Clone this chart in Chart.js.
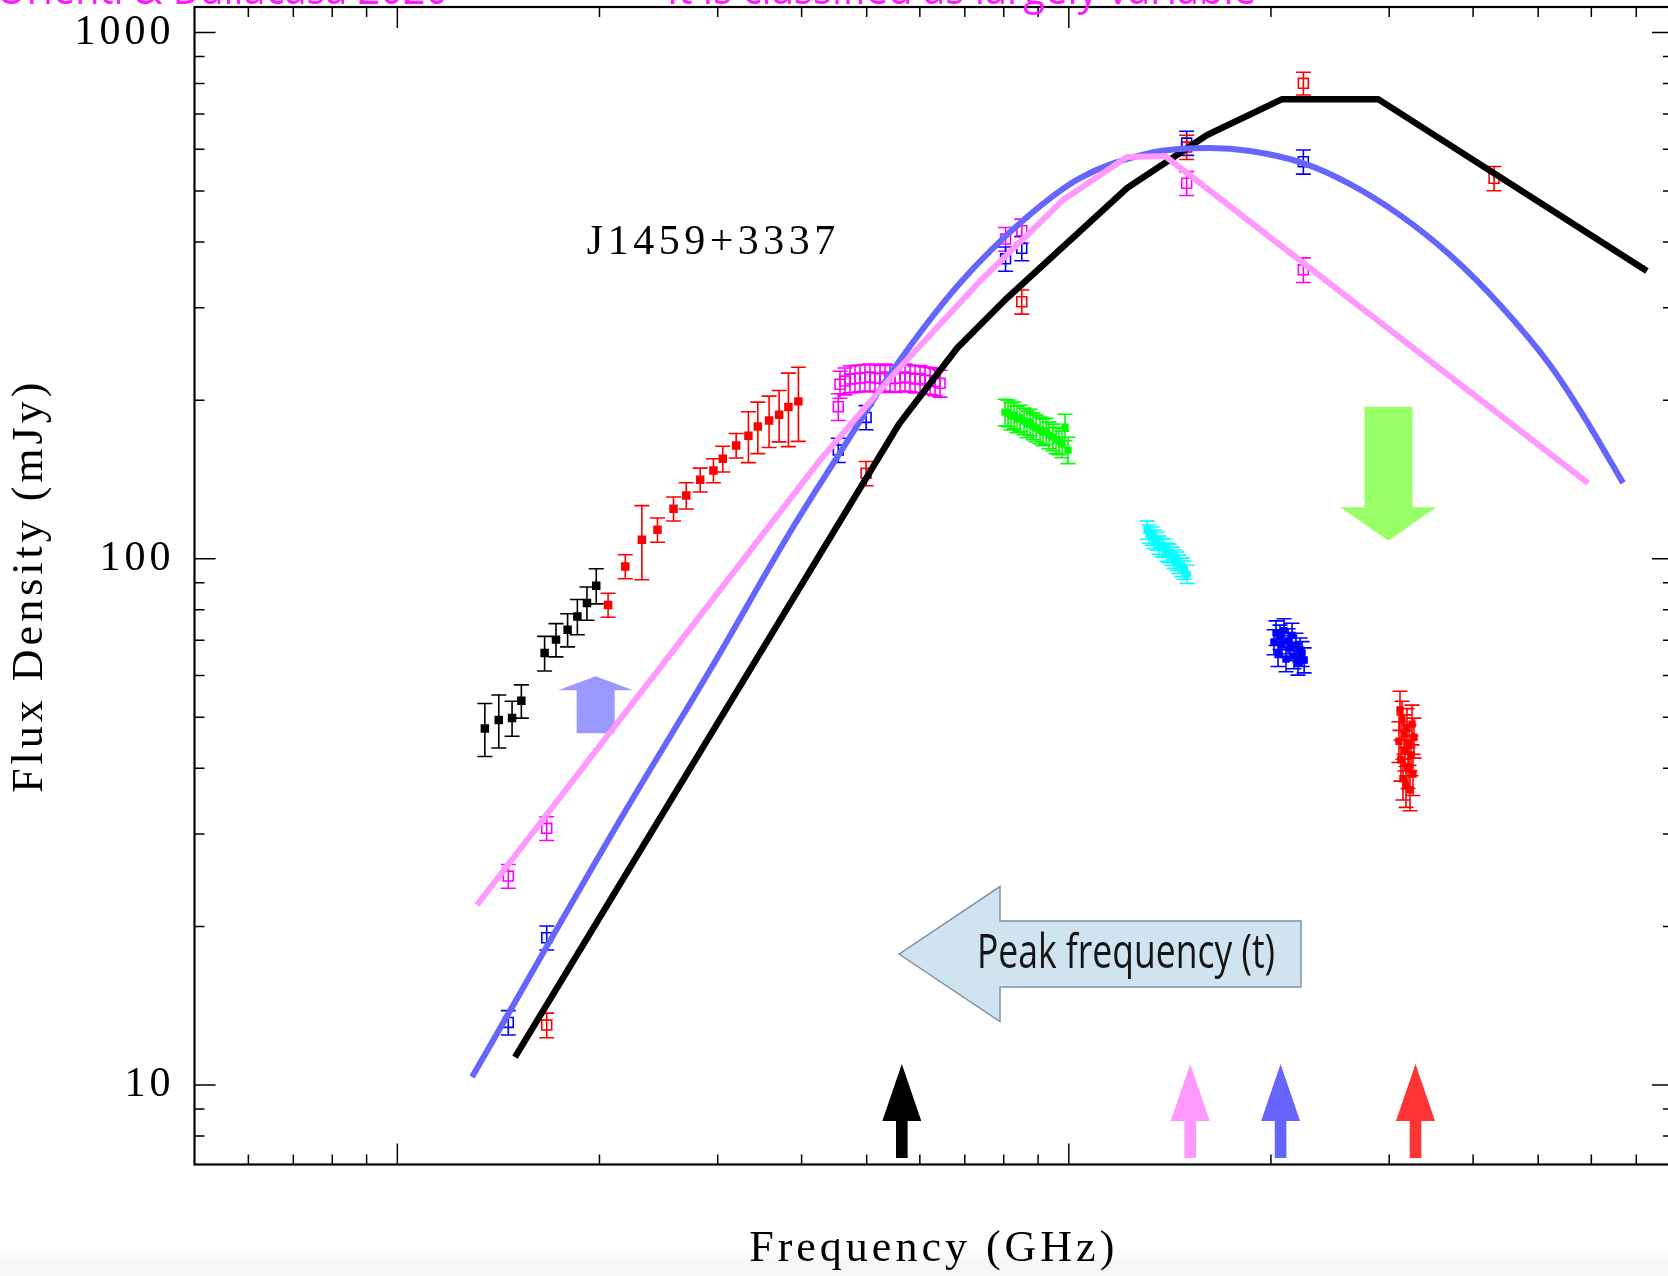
<!DOCTYPE html>
<html>
<head>
<meta charset="utf-8">
<title>J1459+3337 spectrum</title>
<script src="https://cdn.jsdelivr.net/npm/chart.js@4.4.1/dist/chart.umd.min.js"></script>
<style>
  html, body { margin: 0; padding: 0; background: #fff; overflow: hidden; }
  canvas { display: block; }
</style>
</head>
<body>
<canvas id="sed" width="1676" height="1276"></canvas>
<script>
// axis limits (GHz, mJy) and tick positions
var freqRange = [0.4988, 79.39];
var fluxRange = [7.063, 1118];
var xMajorTicks = [1, 10];
var xMinorTicks = [0.6, 0.7, 0.8, 0.9, 2, 3, 4, 5, 6, 7, 8, 9, 20, 30, 40, 50, 60, 70];
var yMajorTicks = [10, 100, 1000];
var yMinorTicks = [8, 9, 20, 30, 40, 50, 60, 70, 80, 90, 200, 300, 400, 500, 600, 700, 800, 900];

// low frequency, filled symbols
var blackFreq = [1.35, 1.416, 1.482, 1.53, 1.657, 1.723, 1.793, 1.854, 1.916, 1.978];
var blackFlux = [47.6, 49.4, 49.8, 53.7, 66.2, 70.2, 73.3, 77.7, 82.4, 88.9];
var blackErr  = [5.5, 5.7, 3.8, 3.9, 5.0, 5.1, 5.3, 6.0, 6.0, 6.8];

var redFreq = [2.06, 2.185, 2.313, 2.44, 2.578, 2.693, 2.825, 2.956, 3.053, 3.196, 3.333, 3.442, 3.578, 3.703, 3.823, 3.956];
var redFlux = [81.7, 96.7, 108.7, 113.5, 124.5, 131.9, 141.3, 147.2, 154.9, 164.2, 171.3, 178.4, 183.2, 187.8, 194.3, 199.1];
var redErr  = [4.3, 5.1, 17.5, 6.0, 6.5, 7.6, 7.4, 7.7, 8.7, 8.8, 19.0, 20.0, 20.5, 21.0, 31.0, 32.0];

// open squares, one per epoch
var magFreq = [1.463, 1.669, 4.536, 8.05, 8.51, 14.98, 22.35];
var magFlux = [24.95, 30.75, 194.5, 405, 420, 517, 354];
var magErr  = [1.3, 1.6, 11.4, 21, 22, 27, 19];

var magBandFreq = [4.563, 4.642, 4.722, 4.804, 4.887, 4.971, 5.058, 5.145, 5.234, 5.325, 5.417, 5.511, 5.606, 5.703, 5.801, 5.902, 6.004, 6.107, 6.214, 6.321, 6.430];
var magBandFlux = [214.5, 217.6, 219.5, 220.0, 220.5, 221.0, 221.4, 220.5, 220.0, 221.4, 220.5, 220.0, 220.5, 221.4, 220.5, 219.5, 220.0, 218.5, 218.0, 217.0, 215.5];
var magBandErr  = [12.6, 12.8, 12.9, 13.0, 13.0, 13.0, 13.1, 13.0, 13.0, 13.1, 13.0, 13.0, 13.0, 13.1, 13.0, 12.9, 13.0, 12.9, 12.8, 12.8, 12.7];

var blueFreq = [1.463, 1.669, 4.536, 4.99, 8.05, 8.51, 14.98, 22.35];
var blueFlux = [13.15, 19.05, 160.9, 185.6, 371.5, 388.9, 616.5, 568.0];
var blueErr  = [0.7, 1.0, 8.5, 9.8, 19.6, 20.5, 32.5, 30.0];

var redOpenFreq = [1.669, 4.99, 8.51, 14.98, 22.35, 42.98];
var redOpenFlux = [13.0, 145.3, 307.9, 605.8, 800.5, 528.3];
var redOpenErr  = [0.7, 7.7, 16.3, 32, 40, 28];

// multichannel bands, filled symbols
var xBandFreq = [8.035, 8.119, 8.202, 8.287, 8.373, 8.460, 8.577, 8.666, 8.754, 8.845, 8.937, 9.060, 9.154, 9.249, 9.344, 9.473, 9.571, 9.670, 9.770, 9.870, 9.972];
var xBandFlux = [190.0, 189.2, 186.7, 187.5, 184.3, 185.1, 182.7, 180.3, 181.9, 178.7, 177.2, 175.6, 174.1, 174.8, 171.8, 170.3, 168.1, 167.4, 165.2, 177.9, 160.9];
var xBandErr  = [11.0, 11.0, 11.0, 11.0, 10.7, 10.7, 10.6, 10.5, 10.5, 10.4, 10.3, 10.2, 10.1, 10.1, 10.0, 9.9, 9.7, 9.7, 9.6, 10.3, 9.3];

var kuBandFreq = [13.08, 13.17, 13.31, 13.40, 13.53, 13.62, 13.76, 13.86, 14.00, 14.10, 14.25, 14.35, 14.49, 14.59, 14.75, 14.85, 15.00];
var kuBandFlux = [113.4, 111.4, 110.5, 109.0, 108.1, 106.2, 105.2, 104.8, 103.0, 102.5, 101.2, 99.9, 99.0, 97.7, 96.4, 95.2, 93.5];
var kuBandErr  = [4.5, 4.5, 4.4, 4.4, 4.3, 4.2, 4.2, 4.2, 4.1, 4.1, 4.0, 4.0, 4.0, 3.9, 3.9, 3.8, 3.7];

var kBandFreq = [20.21, 20.35, 20.49, 20.63, 20.77, 20.92, 21.06, 21.21, 21.35, 21.50, 21.64, 21.79, 21.94, 22.10, 22.25, 22.41];
var kBandFlux = [69.5, 72.3, 66.0, 71.0, 68.6, 73.0, 64.5, 69.8, 67.7, 71.5, 65.3, 68.5, 63.5, 67.1, 66.0, 64.2];
var kBandErr  = [3.8, 3.9, 3.6, 3.8, 3.7, 3.9, 3.5, 3.8, 3.7, 3.9, 3.5, 3.7, 3.4, 3.6, 3.6, 3.5];

var kaBandFreq = [31.02, 31.13, 31.23, 31.34, 31.45, 31.56, 31.67, 31.78, 31.89, 32.00, 32.11, 32.22, 32.33, 32.44, 32.55, 32.66];
var kaBandFlux = [45.0, 51.6, 41.5, 49.4, 38.2, 46.5, 43.3, 37.0, 47.8, 40.2, 44.4, 36.4, 42.4, 48.5, 39.0, 45.8];
var kaBandErr  = [4.0, 4.4, 3.7, 4.2, 3.4, 4.0, 3.8, 3.3, 4.1, 3.6, 3.9, 3.2, 3.7, 4.2, 3.5, 4.0];

// model spectra
var blackModelFreq = [1.497, 5.586, 6.816, 8.091, 12.21, 16.06, 20.78, 28.88, 72.6];
var blackModelFlux = [11.30, 180.3, 251.3, 312.9, 506.1, 638.3, 747.1, 747.1, 352.1];

var blueModelFreq = [1.292, 2.146, 2.922, 3.885, 4.610, 5.473, 6.887, 8.665, 10.39, 13.21, 16.23, 18.62, 22.33, 26.23, 31.13, 36.96, 43.87, 52.07, 58.31, 66.89];
var blueModelFlux = [10.36, 31.88, 61.44, 114.9, 162.3, 228.3, 334.1, 445.9, 528.9, 590.1, 603.1, 595.3, 564.7, 515.2, 449.8, 377.6, 303.4, 233.4, 187.5, 139.3];

var pinkModelFreq = [1.314, 4.261, 5.473, 7.376, 9.80, 12.21, 13.91, 59.33];
var pinkModelFlux = [21.98, 154.0, 223.4, 337.0, 480.3, 579.9, 582.4, 139.3];

// annotations: peak frequency per epoch, arrow anchors (GHz, mJy)
var peakFreq = [5.64, 15.16, 20.67, 32.83];
var peakColors = ['#000000', '#ff99ff', '#6666ff', '#ff3333'];
var peakTipFlux = 10.96;
var riseArrowAt = [1.974, 59.8];
var dropArrowAt = [29.91, 108.2];
var peakLabelAt = [5.586, 17.74];
var nameLabelAt = [1.915, 379.3];

function pts(fx, fy) {
    return fx.map(function (x, i) { return { x: x, y: fy[i] }; });
}

function points(fx, fy, err, color, open, radius, order) {
    return {
        data: pts(fx, fy),
        errors: err,
        errColor: color,
        showLine: false,
        pointStyle: 'rect',
        pointRadius: radius,
        pointBackgroundColor: open ? 'rgba(0,0,0,0)' : color,
        pointBorderColor: color,
        pointBorderWidth: open ? 1.6 : 0,
        order: order
    };
}

function model(fx, fy, color, width, smooth, order) {
    return {
        data: pts(fx, fy),
        showLine: true,
        borderColor: color,
        borderWidth: width,
        pointRadius: 0,
        tension: 0,
        cubicInterpolationMode: smooth ? 'monotone' : 'default',
        borderJoinStyle: 'miter',
        order: order
    };
}

// solid block arrow; tip at (tx, ty), body trailing along dir
function blockArrow(ctx, tx, ty, dir, headHalf, headLen, bodyHalf, total) {
    var shape = [[0, 0], [headLen, -headHalf], [headLen, -bodyHalf], [total, -bodyHalf],
                 [total, bodyHalf], [headLen, bodyHalf], [headLen, headHalf]];
    ctx.beginPath();
    shape.forEach(function (p, i) {
        var px, py;
        if (dir === 'up') { px = tx + p[1]; py = ty + p[0]; }
        else if (dir === 'down') { px = tx + p[1]; py = ty - p[0]; }
        else { px = tx + p[0]; py = ty + p[1]; }
        if (i === 0) ctx.moveTo(px, py); else ctx.lineTo(px, py);
    });
    ctx.closePath();
}

function fitText(ctx, text, x, y, width, align) {
    var w = ctx.measureText(text).width;
    ctx.save();
    ctx.translate(x, y);
    ctx.scale(width / w, 1);
    ctx.textAlign = align;
    ctx.fillText(text, 0, 0);
    ctx.restore();
}

var annotations = {
    id: 'annotations',
    beforeDraw: function (chart) {
        var ctx = chart.ctx;
        var g = ctx.createLinearGradient(0, 1248, 0, 1262);
        g.addColorStop(0, 'rgba(240,240,240,0)');
        g.addColorStop(1, 'rgba(240,240,240,0.55)');
        ctx.fillStyle = g;
        ctx.fillRect(0, 1248, chart.width, chart.height - 1248);
        // serif axis text is drawn letter-spaced
        ctx.letterSpacing = '4px';
    },
    beforeDatasetsDraw: function (chart) {
        var ctx = chart.ctx, x = chart.scales.x, y = chart.scales.y;
        ctx.save();
        ctx.letterSpacing = '0px';

        // peak frequency markers along the bottom
        var tipY = y.getPixelForValue(peakTipFlux);
        peakFreq.forEach(function (f, i) {
            ctx.fillStyle = peakColors[i];
            blockArrow(ctx, x.getPixelForValue(f), tipY, 'up', 19.5, 57, 5.8, 94);
            ctx.fill();
        });

        ctx.fillStyle = '#9999ff';
        blockArrow(ctx, x.getPixelForValue(riseArrowAt[0]), y.getPixelForValue(riseArrowAt[1]), 'up', 37.5, 14, 19, 57);
        ctx.fill();

        ctx.fillStyle = '#99ff66';
        blockArrow(ctx, x.getPixelForValue(dropArrowAt[0]), y.getPixelForValue(dropArrowAt[1]), 'down', 48, 33.5, 24, 134);
        ctx.fill();

        var px = x.getPixelForValue(peakLabelAt[0]), py = y.getPixelForValue(peakLabelAt[1]);
        blockArrow(ctx, px, py, 'left', 67.5, 101, 33, 402);
        ctx.fillStyle = '#d0e3f1';
        ctx.fill();
        ctx.strokeStyle = '#7b95ad';
        ctx.lineWidth = 1.5;
        ctx.stroke();
        ctx.fillStyle = '#141414';
        ctx.font = '48px "Open Sans"';
        ctx.textBaseline = 'alphabetic';
        fitText(ctx, 'Peak frequency (t)', px + 78, py + 14, 298, 'left');

        // error bars under the symbols
        ctx.lineWidth = 1.6;
        chart.data.datasets.forEach(function (ds) {
            if (!ds.errors) return;
            ctx.strokeStyle = ds.errColor;
            ctx.beginPath();
            ds.data.forEach(function (p, j) {
                var e = ds.errors[j];
                var cx = x.getPixelForValue(p.x);
                var top = y.getPixelForValue(p.y + e);
                var bot = y.getPixelForValue(p.y - e);
                ctx.moveTo(cx, top); ctx.lineTo(cx, bot);
                ctx.moveTo(cx - 7.5, top); ctx.lineTo(cx + 7.5, top);
                ctx.moveTo(cx - 7.5, bot); ctx.lineTo(cx + 7.5, bot);
            });
            ctx.stroke();
        });
        ctx.restore();
        ctx.letterSpacing = '4px';
    },
    afterDraw: function (chart) {
        var ctx = chart.ctx, a = chart.chartArea, x = chart.scales.x, y = chart.scales.y;
        ctx.save();
        ctx.letterSpacing = '0px';

        // frame with inward ticks on all four sides
        ctx.strokeStyle = '#000';
        ctx.lineWidth = 2.2;
        ctx.strokeRect(a.left, a.top, a.right - a.left, a.bottom - a.top);
        ctx.lineWidth = 1.5;
        ctx.beginPath();
        function xTick(v, len) {
            var p = x.getPixelForValue(v);
            ctx.moveTo(p, a.bottom); ctx.lineTo(p, a.bottom - len);
            ctx.moveTo(p, a.top); ctx.lineTo(p, a.top + len);
        }
        function yTick(v, len) {
            var p = y.getPixelForValue(v);
            ctx.moveTo(a.left, p); ctx.lineTo(a.left + len, p);
            ctx.moveTo(a.right, p); ctx.lineTo(a.right - len, p);
        }
        xMajorTicks.forEach(function (v) { xTick(v, 21); });
        xMinorTicks.forEach(function (v) { xTick(v, 10); });
        yMajorTicks.forEach(function (v) { yTick(v, 21); });
        yMinorTicks.forEach(function (v) { yTick(v, 10); });
        ctx.stroke();

        // source name
        ctx.fillStyle = '#000';
        ctx.font = '42px "Liberation Serif"';
        ctx.textAlign = 'left';
        ctx.textBaseline = 'alphabetic';
        ctx.letterSpacing = '4.5px';
        ctx.fillText('J1459+3337', x.getPixelForValue(nameLabelAt[0]), y.getPixelForValue(nameLabelAt[1]));
        ctx.letterSpacing = '0px';

        // header lines running off the top edge
        ctx.fillStyle = '#ff1aff';
        ctx.font = '44px "Open Sans"';
        fitText(ctx, 'Orienti & Dallacasa 2020', 448, 4, 452, 'right');
        fitText(ctx, 'It is classified as largely variable', 667, 4, 589, 'left');
        ctx.restore();
        ctx.letterSpacing = '0px';
    }
};

var serif = { family: 'Liberation Serif', size: 44, weight: 'normal' };

new Chart(document.getElementById('sed'), {
    type: 'scatter',
    data: {
        datasets: [
            model(pinkModelFreq, pinkModelFlux, '#ff99ff', 6, false, 0),
            model(blueModelFreq, blueModelFlux, '#6666ff', 6, true, 1),
            model(blackModelFreq, blackModelFlux, '#000000', 6.5, false, 2),
            points(blackFreq, blackFlux, blackErr, '#000000', false, 6, 10),
            points(redFreq, redFlux, redErr, '#ff0000', false, 6, 11),
            points(magBandFreq, magBandFlux, magBandErr, '#ff00ff', true, 7, 12),
            points(magFreq, magFlux, magErr, '#ff00ff', true, 7, 13),
            points(blueFreq, blueFlux, blueErr, '#0000ff', true, 7, 14),
            points(redOpenFreq, redOpenFlux, redOpenErr, '#ff0000', true, 7, 15),
            points(xBandFreq, xBandFlux, xBandErr, '#00ff00', false, 5.2, 16),
            points(kuBandFreq, kuBandFlux, kuBandErr, '#00ffff', false, 5.2, 17),
            points(kBandFreq, kBandFlux, kBandErr, '#0000ff', false, 5.2, 18),
            points(kaBandFreq, kaBandFlux, kaBandErr, '#ff0000', false, 5.2, 19)
        ]
    },
    options: {
        responsive: false,
        animation: false,
        events: [],
        // the right-hand frame sits just past the visible page edge
        layout: { autoPadding: false, padding: { top: 7, right: 3, bottom: 0, left: 0 } },
        plugins: {
            legend: { display: false },
            tooltip: { enabled: false }
        },
        scales: {
            x: {
                type: 'logarithmic',
                position: 'bottom',
                min: freqRange[0],
                max: freqRange[1],
                grid: { display: false, drawTicks: false },
                border: { display: false },
                ticks: { display: false },
                title: { display: true, text: 'Frequency (GHz)', color: '#000', font: serif, padding: { top: 0, bottom: 0 } },
                afterFit: function (s) {
                    s.height = 111.5;
                    s.paddingLeft = 0; s.paddingRight = 0;
                }
            },
            y: {
                type: 'logarithmic',
                position: 'left',
                min: fluxRange[0],
                max: fluxRange[1],
                grid: { display: false, drawTicks: false },
                border: { display: false },
                ticks: {
                    color: '#000',
                    padding: 20,
                    font: { family: 'Liberation Serif', size: 42 },
                    callback: function (v) { return String(v); }
                },
                afterBuildTicks: function (s) {
                    s.ticks = yMajorTicks.map(function (v) { return { value: v }; });
                },
                title: { display: true, text: 'Flux Density (mJy)', color: '#000', font: serif, padding: { top: 4, bottom: 0 } },
                afterFit: function (s) {
                    s.width = 194.5;
                    s.paddingTop = 0; s.paddingBottom = 0;
                }
            }
        }
    },
    plugins: [annotations]
});
</script>
</body>
</html>
